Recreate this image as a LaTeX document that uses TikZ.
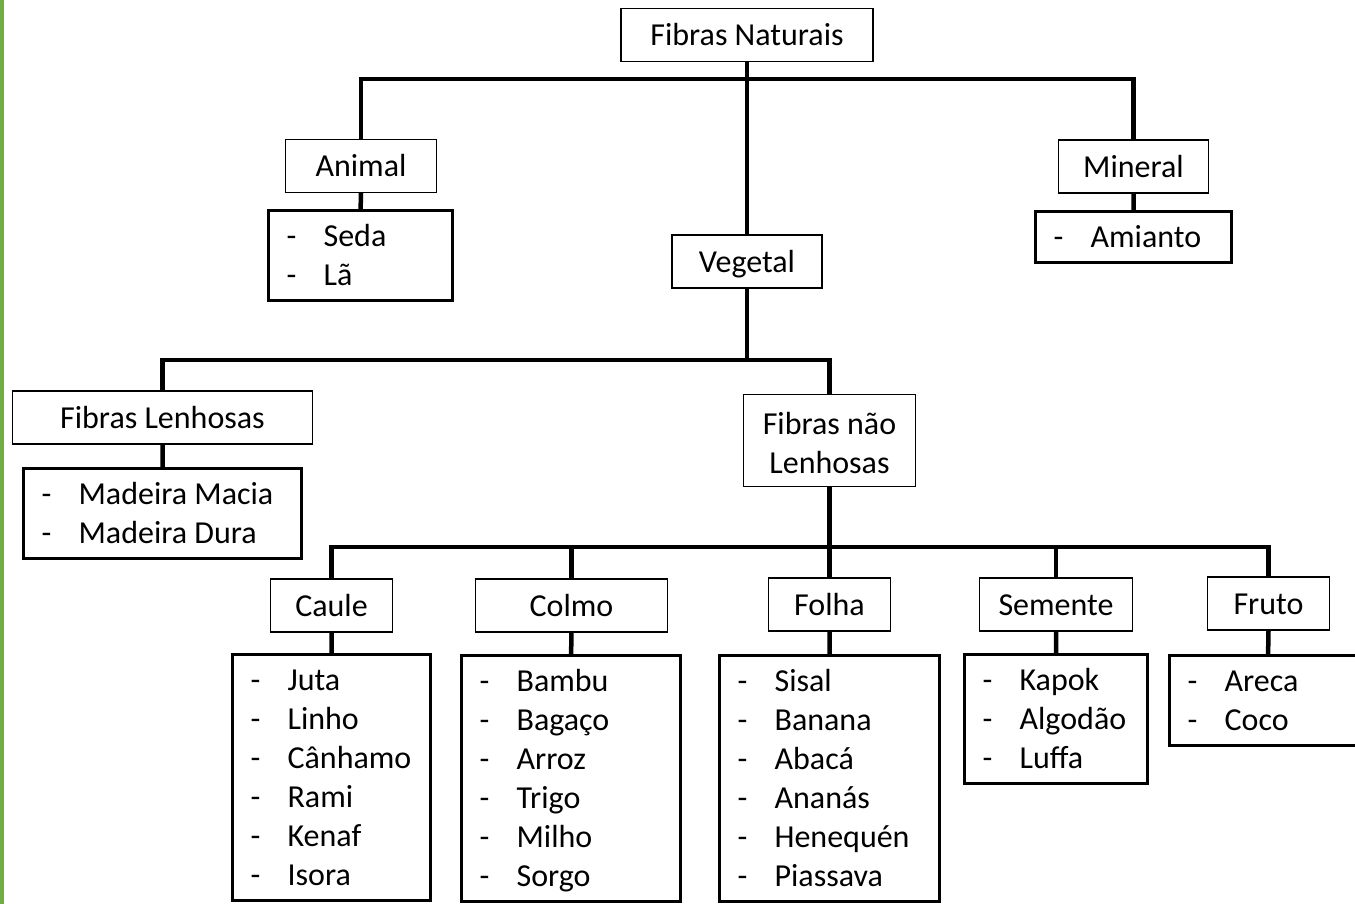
\documentclass[tikz,border=0pt]{standalone}
\usepackage{fontspec}
\setmainfont{Carlito}
\definecolor{edgegreen}{RGB}{112,173,71}
\newcommand{\ls}{\rule[-8.7pt]{0pt}{39pt}}
\newcommand{\li}[1]{\ls\makebox[37pt][l]{-}#1}
\tikzset{
  cat/.style={draw, line width=1.2pt, inner sep=0pt, minimum height=53pt,
    font=\fontsize{32}{39}\selectfont, execute at begin node=\ls},
  lst/.style={draw, line width=3.2pt, anchor=north west, align=flush left,
    inner xsep=18pt, inner ysep=6pt, font=\fontsize{32}{39}\selectfont},
  bar/.style={line width=4.5pt}
}
\begin{document}
\begin{tikzpicture}[x=1pt, y=-1pt]
        \useasboundingbox (0,0) rectangle (1355,904);
        \clip (0,0) rectangle (1355,904);
        \fill[edgegreen] (0,0) rectangle (4,904);

        \node[cat, minimum width=252pt] at (747,35) (nat) {Fibras Naturais};
        \node[cat, minimum width=151pt] at (361,166) (animal) {Animal};
        \node[cat, minimum width=150pt] at (747,261.5) (veg) {Vegetal};
        \node[cat, minimum width=150pt] at (1133.5,166.5) (mineral) {Mineral};
        \node[cat, minimum width=300pt] at (162.5,417.5) (lenh) {Fibras Lenhosas};
        \node[cat, minimum width=172pt, minimum height=92pt, align=center] at (829.5,440.5) (naolenh) {\rule{0pt}{36pt}Fibras não\\\ls Lenhosas};
        \node[cat, minimum width=122pt] at (331.5,605.5) (caule) {Caule};
        \node[cat, minimum width=192pt] at (571.5,605.5) (colmo) {Colmo};
        \node[cat, minimum width=122pt] at (829.5,604.5) (folha) {Folha};
        \node[cat, minimum width=153pt] at (1056,604.5) (semente) {Semente};
        \node[cat, minimum width=122pt] at (1268.5,603.5) (fruto) {Fruto};

        \node[lst, text width=148pt] at (267,209) (lanimal) {\li{Seda}\\\li{Lã}};
        \node[lst, text width=160pt] at (1034,210) (lmineral) {\li{Amianto}};
        \node[lst, text width=242pt] at (22,467) (llenh) {\li{Madeira Macia}\\\li{Madeira Dura}};
        \node[lst, text width=162pt] at (231,653) (lcaule) {\li{Juta}\\\li{Linho}\\\li{Cânhamo}\\\li{Rami}\\\li{Kenaf}\\\li{Isora}};
        \node[lst, text width=183pt] at (460,654) (lcolmo) {\li{Bambu}\\\li{Bagaço}\\\li{Arroz}\\\li{Trigo}\\\li{Milho}\\\li{Sorgo}};
        \node[lst, text width=184pt] at (718,654) (lfolha) {\li{Sisal}\\\li{Banana}\\\li{Abacá}\\\li{Ananás}\\\li{Henequén}\\\li{Piassava}};
        \node[lst, text width=147pt] at (963,653) (lsemente) {\li{Kapok}\\\li{Algodão}\\\li{Luffa}};
        \node[lst, text width=161pt] at (1168,654) (lfruto) {\li{Areca}\\\li{Coco}};

        \coordinate (t1) at (747,79);
        \coordinate (t2) at (747,360);
        \coordinate (t3) at (829.5,547);

        \draw[bar] (animal.north) |- (t1) -| (mineral.north);
        \draw[bar] (nat.south) -- (veg.north);
        \draw[bar] (lenh.north) |- (t2) -| (naolenh.north);
        \draw[bar] (veg.south) -- (t2);
        \draw[bar] (caule.north) |- (t3) -| (fruto.north);
        \draw[bar] (naolenh.south) -- (folha.north);
        \foreach \c in {colmo,semente}
            \draw[bar] (\c.north) -- (\c.north |- t3);
        \foreach \c in {animal,mineral,lenh,caule,colmo,folha,semente,fruto}
            \draw[bar] (\c.south) -- (l\c.north);
\end{tikzpicture}
\end{document}
